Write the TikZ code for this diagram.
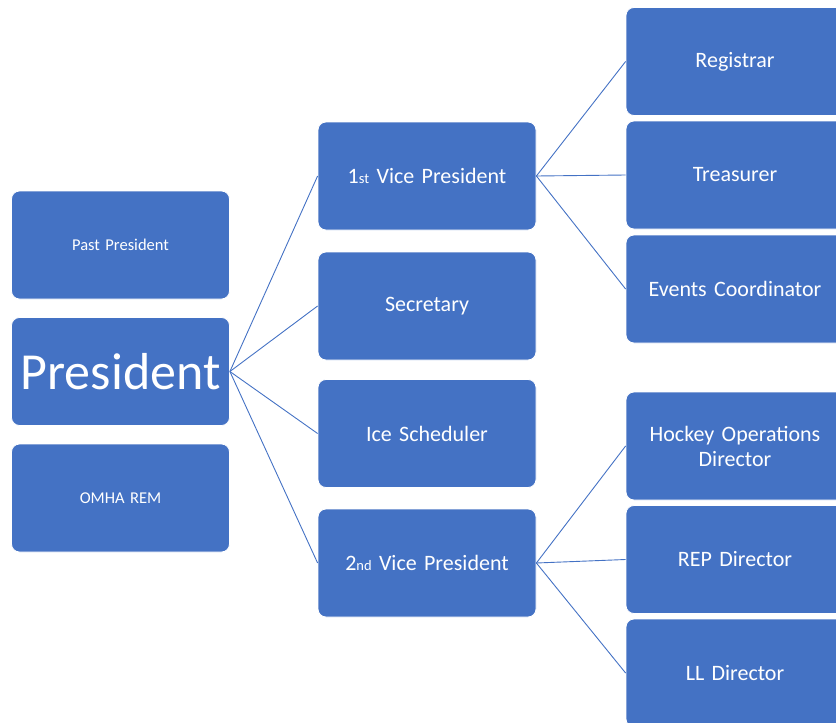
\documentclass[tikz,border=0pt]{standalone}
\usepackage{fontspec}
\setmainfont{Carlito}
\usepackage{tikz}
\usetikzlibrary{positioning}
\definecolor{boxblue}{RGB}{68,114,196}

\begin{document}
\begin{tikzpicture}[x=1pt,y=-1pt]
\tikzstyle{office}=[rectangle,rounded corners=8pt,fill=boxblue,draw=white,line width=0.8pt,minimum width=218pt,minimum height=108pt,text width=214pt,inner sep=2pt,text=white,align=center,font=\fontsize{22}{25}\selectfont]
\tikzstyle{small}=[font=\fontsize{16.5}{19}\selectfont]
\tikzstyle{link}=[draw=boxblue,line width=0.9pt]
\useasboundingbox (0,0) rectangle (836,723);
\clip (0,0) rectangle (836,723);
% left column
\node[office,small] (past) at (120.5,245) {Past President};
\node[office,font=\fontsize{52}{52}\selectfont] (pres) at (120.5,371.5) {President};
\node[office,small] (omha) at (120.5,498) {OMHA REM};
% middle column
\node[office] (vp1) at (427,176) {1{\fontsize{14.5}{14.5}\selectfont st} Vice President};
\node[office] (sec) at (427,306) {Secretary};
\node[office] (ice) at (427,433.5) {Ice Scheduler};
\node[office] (vp2) at (427,563) {2{\fontsize{14.5}{14.5}\selectfont nd} Vice President};
% right column
\node[office] (reg) at (735,61.5) {Registrar};
\node[office] (tre) at (735,175) {Treasurer};
\node[office] (evt) at (735,289) {Events Coordinator};
\node[office] (hoc) at (735,446) {Hockey Operations\\Director};
\node[office] (rep) at (735,559.5) {REP Director};
\node[office] (ll) at (735,673) {LL Director};
% connectors
\foreach \n in {vp1,sec,ice,vp2}
  \draw[link] (pres.east) -- (\n.west);
\foreach \n in {reg,tre,evt}
  \draw[link] (vp1.east) -- (\n.west);
\foreach \n in {hoc,rep,ll}
  \draw[link] (vp2.east) -- (\n.west);
\end{tikzpicture}
\end{document}
